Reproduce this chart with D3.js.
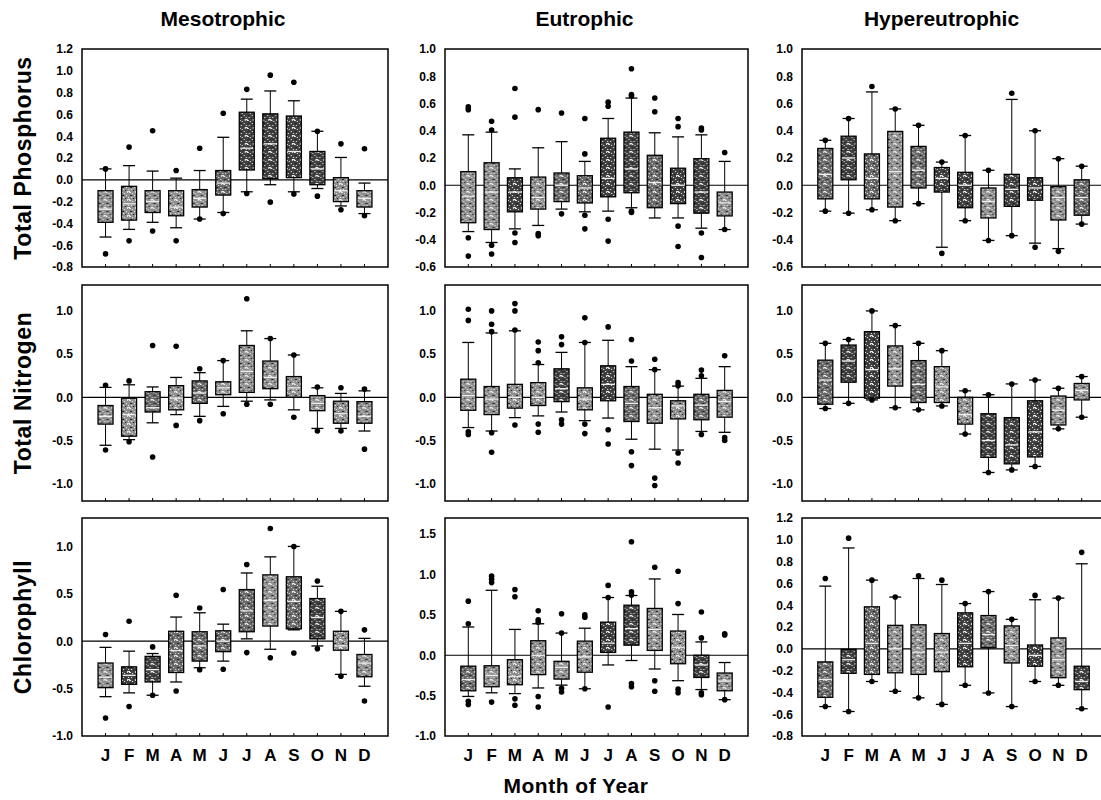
<!DOCTYPE html>
<html lang="en">
<head>
<meta charset="utf-8">
<title>Monthly deviations by trophic state</title>
<script src="https://d3js.org/d3.v7.min.js"></script>
<style>
  body { margin: 0; background: #fff; }
  text { font-family: "Liberation Sans", Arial, sans-serif; font-weight: bold; fill: #000; }
</style>
</head>
<body>
<script>
// ---- data ----
var months = ["J","F","M","A","M","J","J","A","S","O","N","D"];
var trophic = ["Mesotrophic","Eutrophic","Hypereutrophic"];
var variables = ["Total Phosphorus","Total Nitrogen","Chlorophyll"];

// tick labels per panel
var ticksTP1 = [-0.8,-0.6,-0.4,-0.2,0.0,0.2,0.4,0.6,0.8,1.0,1.2];
var ticksTP2 = [-0.6,-0.4,-0.2,0.0,0.2,0.4,0.6,0.8,1.0];
var ticksTN  = [-1.0,-0.5,0.0,0.5,1.0];
var ticksCh1 = [-1.0,-0.5,0.0,0.5,1.0];
var ticksCh2 = [-1.0,-0.5,0.0,0.5,1.0,1.5];
var ticksCh3 = [-0.8,-0.6,-0.4,-0.2,0.0,0.2,0.4,0.6,0.8,1.0,1.2];

// boxes: [whisker low, q1, median, q3, whisker high]
var tpMeso = [[-0.525,-0.39,-0.27,-0.10,0.10],[-0.455,-0.37,-0.22,-0.06,0.13],[-0.39,-0.30,-0.20,-0.10,0.08],[-0.44,-0.33,-0.25,-0.10,0.015],[-0.36,-0.25,-0.17,-0.09,0.085],[-0.30,-0.14,-0.03,0.085,0.39],[-0.11,0.09,0.29,0.62,0.74],[-0.045,0.01,0.33,0.605,0.815],[-0.11,0.02,0.26,0.585,0.725],[-0.08,-0.045,0.10,0.26,0.445],[-0.24,-0.20,-0.10,0.02,0.205],[-0.31,-0.25,-0.17,-0.10,-0.03]];
var tpMesoOut = [[-0.68,0.10],[-0.56,0.30],[-0.47,0.45],[-0.56,0.085],[-0.36,0.29],[-0.31,0.61],[-0.125,0.83],[-0.205,0.96],[-0.13,0.895],[-0.15,0.445],[-0.275,0.33],[-0.33,0.285]];
var tpEu = [[-0.34,-0.275,-0.08,0.10,0.37],[-0.42,-0.325,-0.05,0.165,0.39],[-0.32,-0.195,-0.05,0.055,0.12],[-0.295,-0.175,-0.09,0.06,0.275],[-0.175,-0.12,0.0,0.09,0.32],[-0.195,-0.13,-0.02,0.07,0.175],[-0.19,-0.085,0.05,0.345,0.49],[-0.165,-0.055,0.12,0.39,0.64],[-0.24,-0.165,0.02,0.22,0.385],[-0.24,-0.135,0.0,0.125,0.355],[-0.315,-0.205,-0.05,0.195,0.37],[-0.325,-0.225,-0.13,-0.05,0.175]];
var tpEuOut = [[-0.52,-0.385,0.555,0.575],[-0.505,-0.44,0.405,0.47],[-0.42,-0.35,0.50,0.71],[-0.37,-0.355,0.555],[-0.21,0.53],[-0.32,-0.22,0.23,0.49],[-0.41,-0.25,0.58,0.61],[-0.20,-0.19,0.655,0.665,0.855],[0.54,0.64],[-0.45,-0.30,0.43,0.49],[-0.53,-0.35,0.405,0.42],[-0.325,0.24]];
var tpHyp = [[-0.19,-0.10,0.08,0.27,0.33],[-0.205,0.04,0.20,0.36,0.49],[-0.18,-0.10,0.05,0.23,0.685],[-0.26,-0.16,0.10,0.395,0.56],[-0.135,-0.02,0.11,0.285,0.44],[-0.455,-0.05,0.05,0.13,0.17],[-0.26,-0.165,0.0,0.095,0.365],[-0.405,-0.24,-0.12,-0.02,0.11],[-0.37,-0.155,-0.03,0.08,0.63],[-0.425,-0.11,-0.02,0.055,0.40],[-0.465,-0.255,-0.09,-0.01,0.195],[-0.285,-0.22,-0.09,0.04,0.14]];
var tpHypOut = [[-0.19,0.33],[-0.205,0.49],[-0.18,0.725],[-0.26,0.56],[-0.135,0.44],[-0.50,0.17],[-0.26,0.365],[-0.405,0.11],[-0.37,0.675],[-0.455,0.40],[-0.485,0.195],[-0.285,0.14]];

var tnMeso = [[-0.555,-0.31,-0.22,-0.095,0.115],[-0.49,-0.45,-0.20,-0.01,0.145],[-0.295,-0.17,-0.12,0.065,0.12],[-0.20,-0.145,-0.01,0.135,0.23],[-0.22,-0.07,0.05,0.19,0.285],[-0.105,0.03,0.11,0.18,0.425],[-0.045,0.057,0.30,0.60,0.77],[-0.03,0.10,0.23,0.42,0.68],[-0.145,0.0,0.11,0.24,0.49],[-0.36,-0.155,-0.07,0.02,0.11],[-0.36,-0.30,-0.19,-0.045,0.045],[-0.39,-0.30,-0.22,-0.05,0.075]];
var tnMesoOut = [[-0.61,0.14],[-0.515,0.19],[-0.69,0.60],[-0.325,0.59],[-0.27,0.33],[-0.19,0.425],[-0.08,1.14],[-0.08,0.68],[-0.23,0.49],[-0.39,0.12],[-0.39,0.11],[-0.60,0.095]];
var tnEu = [[-0.35,-0.15,0.02,0.21,0.635],[-0.39,-0.20,-0.02,0.125,0.745],[-0.235,-0.125,0.0,0.15,0.77],[-0.215,-0.095,0.0,0.17,0.38],[-0.17,-0.05,0.10,0.33,0.52],[-0.27,-0.145,-0.02,0.11,0.635],[-0.24,-0.04,0.15,0.365,0.66],[-0.485,-0.28,-0.07,0.125,0.355],[-0.60,-0.30,-0.12,0.035,0.32],[-0.61,-0.25,-0.10,-0.04,0.13],[-0.395,-0.26,-0.09,0.035,0.22],[-0.405,-0.23,-0.05,0.08,0.355]];
var tnEuOut = [[-0.43,-0.40,0.89,1.02],[-0.635,-0.41,0.76,0.845,1.0],[-0.32,0.78,1.0,1.085],[-0.405,-0.31,0.40,0.54,0.64],[-0.31,-0.26,0.61,0.70],[-0.42,-0.31,0.635,0.92],[-0.54,-0.375,0.815],[-0.79,-0.63,0.42,0.67],[-1.02,-0.935,0.32,0.44],[-0.76,-0.645,0.135,0.17],[-0.43,0.25,0.315],[-0.50,-0.465,0.48]];
var tnHyp = [[-0.13,-0.08,0.20,0.43,0.625],[-0.07,0.175,0.42,0.605,0.67],[-0.03,-0.01,0.32,0.76,1.0],[-0.12,0.13,0.33,0.595,0.83],[-0.145,-0.06,0.15,0.425,0.625],[-0.10,-0.06,0.12,0.355,0.54],[-0.425,-0.31,-0.20,0.0,0.075],[-0.87,-0.695,-0.50,-0.19,0.03],[-0.84,-0.77,-0.55,-0.235,0.155],[-0.80,-0.69,-0.40,-0.04,0.20],[-0.365,-0.32,-0.15,0.015,0.105],[-0.23,-0.03,0.08,0.16,0.24]];
var tnHypOut = [[-0.13,0.625],[-0.07,0.67],[-0.03,1.0],[-0.12,0.83],[-0.145,0.625],[-0.10,0.54],[-0.425,0.075],[-0.87,0.03],[-0.84,0.155],[-0.80,0.20],[-0.365,0.105],[-0.23,0.24]];

var chMeso = [[-0.585,-0.49,-0.38,-0.23,-0.065],[-0.545,-0.455,-0.36,-0.27,-0.105],[-0.57,-0.43,-0.30,-0.16,-0.13],[-0.43,-0.33,-0.10,0.105,0.255],[-0.28,-0.21,-0.05,0.10,0.30],[-0.21,-0.11,0.0,0.11,0.18],[0.025,0.10,0.32,0.545,0.72],[-0.085,0.16,0.43,0.70,0.89],[0.12,0.13,0.42,0.68,1.0],[-0.05,0.025,0.25,0.45,0.58],[-0.35,-0.095,-0.05,0.105,0.315],[-0.475,-0.375,-0.23,-0.14,0.03]];
var chMesoOut = [[-0.81,0.07],[-0.69,0.21],[-0.57,-0.06],[-0.525,0.485],[-0.30,0.35],[-0.295,0.545],[-0.12,0.81],[-0.175,1.19],[-0.125,1.0],[-0.08,0.635],[-0.37,0.315],[-0.63,0.12]];
var chEu = [[-0.51,-0.44,-0.30,-0.135,0.35],[-0.465,-0.39,-0.25,-0.13,0.805],[-0.475,-0.365,-0.26,-0.055,0.32],[-0.405,-0.24,0.0,0.18,0.39],[-0.37,-0.295,-0.15,-0.075,0.275],[-0.415,-0.21,-0.02,0.175,0.335],[-0.12,0.035,0.15,0.41,0.715],[-0.065,0.125,0.33,0.62,0.74],[-0.17,0.06,0.32,0.58,0.945],[-0.315,-0.105,0.10,0.30,0.505],[-0.425,-0.275,-0.12,0.0,0.165],[-0.55,-0.44,-0.32,-0.22,-0.09]];
var chEuOut = [[-0.61,-0.57,0.39,0.67],[-0.58,0.90,0.94,0.98],[-0.62,-0.54,0.725,0.815],[-0.64,-0.51,0.41,0.44,0.55],[-0.455,-0.41,0.275,0.515],[-0.415,0.47,0.50],[-0.64,0.715,0.865],[-0.39,-0.35,0.745,0.785,1.405],[-0.445,-0.315,1.09],[-0.465,-0.42,0.64,1.04],[-0.49,-0.465,0.215,0.535],[-0.55,0.25,0.265]];
var chHyp = [[-0.53,-0.445,-0.28,-0.12,0.575],[-0.575,-0.225,-0.10,-0.005,0.925],[-0.30,-0.235,0.05,0.385,0.63],[-0.39,-0.22,0.0,0.215,0.475],[-0.45,-0.235,-0.03,0.22,0.645],[-0.51,-0.21,-0.03,0.14,0.59],[-0.335,-0.165,0.05,0.33,0.415],[-0.405,0.01,0.13,0.305,0.525],[-0.53,-0.13,0.03,0.21,0.27],[-0.30,-0.16,-0.06,0.035,0.45],[-0.335,-0.265,-0.10,0.10,0.465],[-0.55,-0.375,-0.30,-0.16,0.78]];
var chHypOut = [[-0.53,0.645],[-0.575,1.015],[-0.30,0.63],[-0.39,0.475],[-0.45,0.67],[-0.51,0.63],[-0.335,0.415],[-0.405,0.525],[-0.53,0.27],[-0.30,0.49],[-0.335,0.465],[-0.55,0.885]];

// shading of each box as printed (l = light, m = medium, d = dark)
var shade = [
  ["lllllmddddll", "lldlmmddmddl", "mdmlmddlddlm"],
  ["llmlmlllllll", "lllldldmllml", "mddlmlldddll"],
  ["lddmmmmlmdll", "mlllllddlldl", "mdmllldmldld"]
];

// ---- layout ----
var W = 1101, H = 800;
var colX = [82, 445, 802], colW = [306, 303, 303];
var rowTop = [49, 285, 518], rowBot = [267, 501, 736];

var panels = [
  {r:0, c:0, box:tpMeso, out:tpMesoOut, dom:[-0.8,1.2], ticks:ticksTP1},
  {r:0, c:1, box:tpEu,   out:tpEuOut,   dom:[-0.6,1.0], ticks:ticksTP2},
  {r:0, c:2, box:tpHyp,  out:tpHypOut,  dom:[-0.6,1.0], ticks:ticksTP2},
  {r:1, c:0, box:tnMeso, out:tnMesoOut, dom:[-1.2,1.3], ticks:ticksTN},
  {r:1, c:1, box:tnEu,   out:tnEuOut,   dom:[-1.2,1.3], ticks:ticksTN},
  {r:1, c:2, box:tnHyp,  out:tnHypOut,  dom:[-1.2,1.3], ticks:ticksTN},
  {r:2, c:0, box:chMeso, out:chMesoOut, dom:[-1.0,1.3], ticks:ticksCh1},
  {r:2, c:1, box:chEu,   out:chEuOut,   dom:[-1.0,1.7], ticks:ticksCh2},
  {r:2, c:2, box:chHyp,  out:chHypOut,  dom:[-0.8,1.2], ticks:ticksCh3}
];

var svg = d3.select("body").append("svg").attr("width", W).attr("height", H);
svg.append("rect").attr("width", W).attr("height", H).attr("fill", "white");

// speckled fills, like the printed halftone
var defs = svg.append("defs");
var toneBg = {l: "#8e8e8e", m: "#686868", d: "#404040"};
var specks = [[0,0],[3,1],[6,0],[1,3],[5,3],[2,5],[7,5],[4,6],[0,7],[6,7]];
Object.keys(toneBg).forEach(function(k) {
  var p = defs.append("pattern").attr("id", "tone-" + k)
    .attr("patternUnits", "userSpaceOnUse").attr("width", 8).attr("height", 8);
  p.append("rect").attr("width", 8).attr("height", 8).attr("fill", toneBg[k]);
  p.selectAll("rect.s").data(specks).enter().append("rect").attr("class", "s")
    .attr("x", function(d) { return d[0]; }).attr("y", function(d) { return d[1]; })
    .attr("width", function(d, i) { return i % 3 == 0 ? 2 : 1; }).attr("height", 1)
    .attr("fill", function(d, i) { return i % 4 == 3 ? "#222" : "#e8e8e8"; });
});

panels.forEach(function(p) {
  var x0 = colX[p.c], w = colW[p.c], top = rowTop[p.r], bot = rowBot[p.r];
  var x = d3.scalePoint().domain(d3.range(12)).range([x0, x0 + w]).padding(1);
  var y = d3.scaleLinear().domain(p.dom).range([bot, top]);
  var g = svg.append("g");

  // zero line
  g.append("line").attr("x1", x0).attr("x2", x0 + w).attr("y1", y(0)).attr("y2", y(0))
    .attr("stroke", "#000").attr("stroke-width", 1.2);

  // y axis labels
  var ya = g.append("g").attr("transform", "translate(" + x0 + ",0)")
    .call(d3.axisLeft(y).tickValues(p.ticks).tickSize(0).tickPadding(9)
      .tickFormat(function(d) { return d.toFixed(1); }));
  ya.select(".domain").remove();
  ya.selectAll("text").style("font-size", "12px").style("font-weight", "bold")
    .style("font-family", "'Liberation Sans', Arial, sans-serif");

  // month ticks on bottom edge
  g.selectAll("line.mt").data(d3.range(12)).enter().append("line").attr("class", "mt")
    .attr("x1", function(i) { return x(i); }).attr("x2", function(i) { return x(i); })
    .attr("y1", bot).attr("y2", bot - 3).attr("stroke", "#000");

  var bw = 15, cw = 12;
  var bx = g.selectAll("g.bx").data(p.box).enter().append("g").attr("class", "bx")
    .attr("transform", function(d, i) { return "translate(" + x(i) + ",0)"; });

  // whiskers
  bx.append("line").attr("y1", function(d) { return y(d[0]); }).attr("y2", function(d) { return y(d[4]); })
    .attr("stroke", "#000").attr("stroke-width", 1);
  bx.append("line").attr("x1", -cw/2).attr("x2", cw/2)
    .attr("y1", function(d) { return y(d[0]); }).attr("y2", function(d) { return y(d[0]); })
    .attr("stroke", "#000").attr("stroke-width", 1.3);
  bx.append("line").attr("x1", -cw/2).attr("x2", cw/2)
    .attr("y1", function(d) { return y(d[4]); }).attr("y2", function(d) { return y(d[4]); })
    .attr("stroke", "#000").attr("stroke-width", 1.3);

  // box
  bx.append("rect").attr("x", -bw/2).attr("width", bw)
    .attr("y", function(d) { return y(d[3]); })
    .attr("height", function(d) { return y(d[1]) - y(d[3]); })
    .attr("fill", function(d, i) { return "url(#tone-" + shade[p.r][p.c][i] + ")"; })
    .attr("stroke", "#000").attr("stroke-width", 1.3);

  // median
  bx.append("line").attr("x1", -bw/2 + 1).attr("x2", bw/2 - 1)
    .attr("y1", function(d) { return y(d[2]); }).attr("y2", function(d) { return y(d[2]); })
    .attr("stroke", "#eeeeee").attr("stroke-width", 1.3);

  // outlier dots
  bx.each(function(d, i) {
    d3.select(this).selectAll("circle").data(p.out[i]).enter().append("circle")
      .attr("cx", 0).attr("cy", function(v) { return y(v); }).attr("r", 2.8).attr("fill", "#000");
  });

  // frame
  g.append("rect").attr("x", x0).attr("y", top).attr("width", w).attr("height", bot - top)
    .attr("fill", "none").attr("stroke", "#000").attr("stroke-width", 1.5);

  // month labels on bottom row
  if (p.r == 2) {
    g.selectAll("text.mo").data(months).enter().append("text").attr("class", "mo")
      .attr("x", function(d, i) { return x(i); }).attr("y", bot + 25)
      .attr("text-anchor", "middle").style("font-size", "17px").text(function(d) { return d; });
  }
});

// column titles
svg.selectAll("text.col").data(trophic).enter().append("text").attr("class", "col")
  .attr("x", function(d, i) { return colX[i] + colW[i] / 2 - 12; }).attr("y", 26)
  .attr("text-anchor", "middle").style("font-size", "21px").text(function(d) { return d; });

// row titles
svg.selectAll("text.row").data(variables).enter().append("text").attr("class", "row")
  .attr("transform", function(d, i) { return "translate(31," + (rowTop[i] + rowBot[i]) / 2 + ") rotate(-90)"; })
  .attr("text-anchor", "middle").style("font-size", "23px").style("letter-spacing", "0.6px")
  .text(function(d) { return d; });

// x title
svg.append("text").attr("x", 576).attr("y", 793).attr("text-anchor", "middle")
  .style("font-size", "21px").style("letter-spacing", "0.5px").text("Month of Year");
</script>
</body>
</html>
